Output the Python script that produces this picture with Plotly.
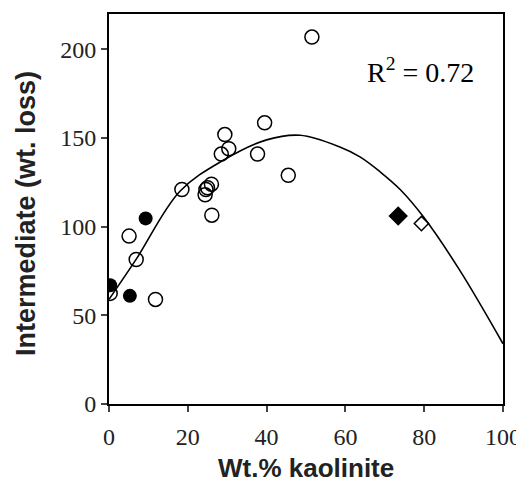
import plotly.graph_objects as go

# Open circles
open_x = [51.5, 39.5, 29.4, 30.4, 28.5, 37.7, 45.5, 18.5, 24.4, 25.0, 26.0, 24.6, 26.1, 5.1, 6.9, 11.8, 0.3]
open_y = [207, 158.6, 152, 144, 141, 141, 129, 121, 118, 122, 124, 121, 106.5, 94.7, 81.5, 59, 62.4]
# Filled circles
filled_x = [9.3, 0.3, 5.3]
filled_y = [104.7, 67, 61]
# Diamonds
fdiam_x = [73.4]
fdiam_y = [106]
odiam_x = [79.3]
odiam_y = [101.8]
# Fitted curve
curve_x = [0, 7, 18, 29, 40, 48.5, 58.6, 63.7, 68.8, 73.9, 79.8, 89, 100]
curve_y = [59, 82, 120, 137.5, 149, 151.6, 145, 139.4, 131, 121, 105.6, 75.5, 34]

x_ticks = [0, 20, 40, 60, 80, 100]
y_ticks = [0, 50, 100, 150, 200]

serif = "Liberation Serif, Times New Roman, serif"
sans = "Liberation Sans, Arial, sans-serif"

fig = go.Figure()
fig.add_trace(go.Scatter(x=curve_x, y=curve_y, mode="lines",
                         line=dict(color="black", width=1.6, shape="spline", smoothing=1.0),
                         showlegend=False, hoverinfo="skip"))
fig.add_trace(go.Scatter(x=open_x, y=open_y, mode="markers",
                         marker=dict(symbol="circle-open", size=14, color="black", line=dict(width=1.5)),
                         showlegend=False))
fig.add_trace(go.Scatter(x=filled_x, y=filled_y, mode="markers",
                         marker=dict(symbol="circle", size=14, color="black"),
                         showlegend=False))
fig.add_trace(go.Scatter(x=fdiam_x, y=fdiam_y, mode="markers",
                         marker=dict(symbol="diamond", size=15, color="black"),
                         showlegend=False))
fig.add_trace(go.Scatter(x=odiam_x, y=odiam_y, mode="markers",
                         marker=dict(symbol="diamond-open", size=11, color="black", line=dict(width=1.5)),
                         showlegend=False))

fig.add_annotation(x=79, y=188, xref="x", yref="y", text="R<sup>2</sup> = 0.72",
                   showarrow=False, font=dict(family=serif, size=28, color="black"))
fig.add_annotation(x=0.5, y=0, xref="paper", yref="paper", yshift=-64, yanchor="middle",
                   text="<b>Wt.% kaolinite</b>", showarrow=False,
                   font=dict(family=sans, size=26, color="#222"))
fig.add_annotation(x=0, y=0.5, xref="paper", yref="paper", xshift=-83, yshift=-5, xanchor="center",
                   text="<b>Intermediate (wt. loss)</b>", showarrow=False, textangle=-90,
                   font=dict(family=sans, size=27, color="#222"))

fig.update_layout(
    width=524, height=483,
    margin=dict(l=101, r=29, t=6, b=87),
    paper_bgcolor="white", plot_bgcolor="white",
    xaxis=dict(range=[0, 100], tickvals=x_ticks, ticks="outside", ticklen=6, tickwidth=1.5,
               showline=True, linecolor="black", linewidth=1.8, mirror=True, showgrid=False,
               zeroline=False, ticklabelstandoff=4, automargin=False,
               tickfont=dict(family=serif, size=24, color="#222")),
    yaxis=dict(range=[0, 220], tickvals=y_ticks, ticks="outside", ticklen=6, tickwidth=1.5,
               showline=True, linecolor="black", linewidth=1.8, mirror=True, showgrid=False,
               zeroline=False, ticklabelstandoff=0, automargin=False,
               tickfont=dict(family=serif, size=24, color="#222")),
)

fig.write_html("out.html")
